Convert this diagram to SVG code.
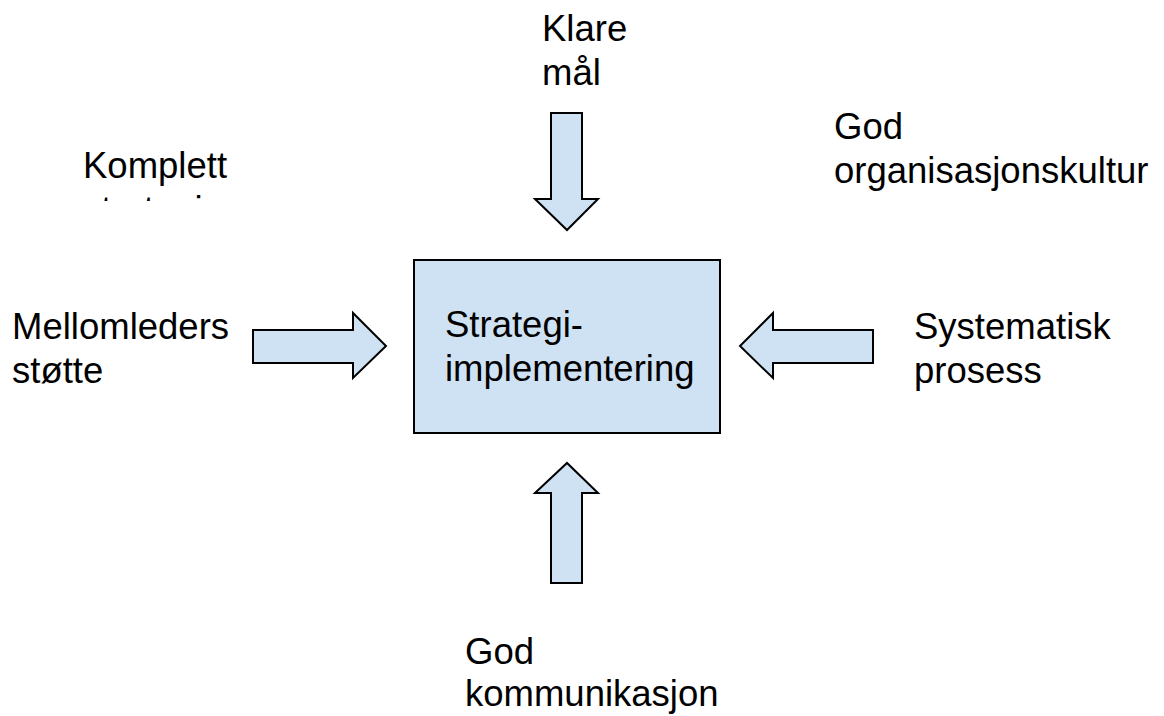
<svg xmlns="http://www.w3.org/2000/svg" width="1164" height="716" viewBox="0 0 1164 716">
  <style>
    .shape { fill: #cfe2f3; stroke: #000000; stroke-width: 2; stroke-linejoin: miter; }
    .label { font-family: "Liberation Sans", Arial, sans-serif; font-size: 36.5px; fill: #000000; }
  </style>
  <defs>
    <clipPath id="komplett-clip">
      <rect x="0" y="140" width="300" height="61"/>
    </clipPath>
  </defs>
  <rect width="1164" height="716" fill="#ffffff"/>

  <!-- block arrows pointing at the centre box -->
  <g id="connectors">
    <polygon id="arrow-top" class="shape" points="551,113 582,113 582,199 598,199 567,230 535,199 551,199"/>
    <polygon id="arrow-left" class="shape" points="253,330 353,330 353,313 386,346 353,378 353,363 253,363"/>
    <polygon id="arrow-right" class="shape" points="873,330 773,330 773,313 740,346 773,378 773,363 873,363"/>
    <polygon id="arrow-bottom" class="shape" points="551,583 582,583 582,493 598,493 567,463 535,493 551,493"/>
  </g>

  <g id="node-center">
    <rect class="shape" x="414" y="260" width="306" height="173"/>
    <text class="label" x="445" y="337">Strategi-</text>
    <text class="label" x="445" y="381">implementering</text>
  </g>

  <g id="node-klare-maal">
    <text class="label" x="542" y="41">Klare</text>
    <text class="label" x="542" y="85">mål</text>
  </g>

  <g id="node-organisasjonskultur">
    <text class="label" x="834" y="139">God</text>
    <text class="label" x="834" y="183">organisasjonskultur</text>
  </g>

  <g id="node-komplett" clip-path="url(#komplett-clip)">
    <text class="label" x="83" y="178">Komplett</text>
    <text class="label" x="83" y="222">strategi</text>
  </g>

  <g id="node-mellomledere">
    <text class="label" x="12" y="339">Mellomleders</text>
    <text class="label" x="12" y="383">støtte</text>
  </g>

  <g id="node-systematisk">
    <text class="label" x="914" y="339">Systematisk</text>
    <text class="label" x="914" y="383">prosess</text>
  </g>

  <g id="node-kommunikasjon">
    <text class="label" x="465" y="664">God</text>
    <text class="label" x="465" y="706">kommunikasjon</text>
  </g>
</svg>
